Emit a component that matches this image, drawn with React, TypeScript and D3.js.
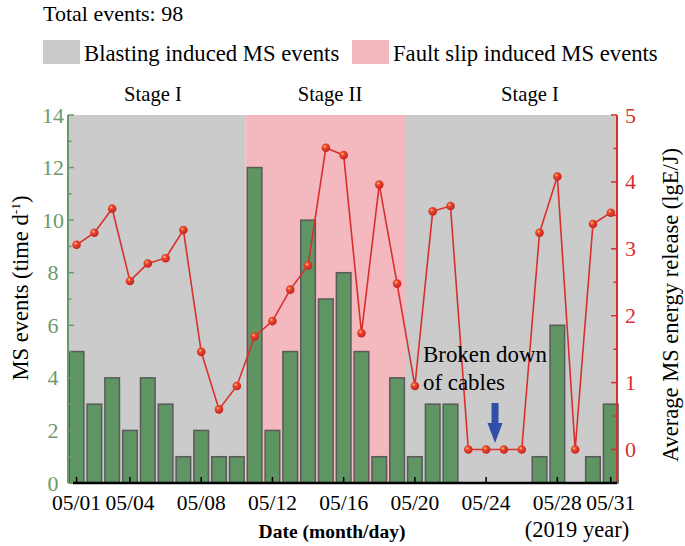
import React from "react";
import * as d3 from "d3";

const days = d3.range(1, 32);
const msEvents = [5, 3, 4, 2, 4, 3, 1, 2, 1, 1, 12, 2, 5, 10, 7, 8, 5, 1, 4, 1, 3, 3, 0, 0, 0, 0, 1, 6, 0, 1, 3];
const energy = [3.06, 3.24, 3.6, 2.52, 2.78, 2.86, 3.28, 1.46, 0.6, 0.95, 1.69, 1.92, 2.39, 2.75, 4.51, 4.4, 1.74, 3.96, 2.48, 0.95, 3.56, 3.64, 0, 0, 0, 0, 3.24, 4.08, 0, 3.37, 3.54];
const xTickDays = [1, 4, 8, 12, 16, 20, 24, 28, 31];
const leftTicks = [0, 2, 4, 6, 8, 10, 12, 14];
const leftMinor = [1, 3, 5, 7, 9, 11, 13];
const rightTicks = [0, 1, 2, 3, 4, 5];
const rightMinor = [-0.5, 0.5, 1.5, 2.5, 3.5, 4.5];
const stages = [
  { label: "Stage I", from: 0.52, to: 10.5, fill: "#cbcbcb", cx: 153 },
  { label: "Stage II", from: 10.5, to: 19.5, fill: "#f4b8bf", cx: 330 },
  { label: "Stage I", from: 19.5, to: 31.35, fill: "#cbcbcb", cx: 530 },
];

const W = 685;
const H = 546;
const L = 68;
const R = 617;
const T = 115;
const B = 483;

const GREEN = "#6a9a6a";
const RED = "#d9302c";
const FONT = "Liberation Serif";

export default function App() {
  const x = d3.scaleLinear().domain([0.52, 31.35]).range([L, R]);
  const yL = d3.scaleLinear().domain([0, 14]).range([B, T]);
  const yR = d3.scaleLinear().domain([-0.5, 5]).range([B, T]);
  const bw = (x(2) - x(1)) * 0.82;

  const line = d3
    .line<number>()
    .x((_, i) => x(days[i]))
    .y((d) => yR(d));

  const ax = x(24.5);

  return (
    <svg width={W} height={H} style={{ position: "absolute", left: 0, top: 0, fontFamily: FONT }}>
      <defs>
        <radialGradient id="ball" cx="0.38" cy="0.35" r="0.65">
          <stop offset="0" stopColor="#ffd36a" />
          <stop offset="0.3" stopColor="#ea4a33" />
          <stop offset="1" stopColor="#c8221e" />
        </radialGradient>
      </defs>
      <rect width={W} height={H} fill="#fff" />

      <text x={43} y={21} fontSize={22}>Total events: 98</text>

      <rect x={43} y={40} width={37} height={24} fill="#cbcbcb" />
      <text x={84} y={61} fontSize={22.7}>Blasting induced MS events</text>
      <rect x={352} y={40} width={37} height={24} fill="#f4b8bf" />
      <text x={393} y={61} fontSize={22.7}>Fault slip induced MS events</text>

      {stages.map((s, i) => (
        <g key={i}>
          <rect x={x(s.from)} y={T} width={x(s.to) - x(s.from)} height={B - T} fill={s.fill} />
          <text x={s.cx} y={101} fontSize={20.6} textAnchor="middle">
            {s.label}
          </text>
        </g>
      ))}

      {msEvents.map((v, i) =>
        v > 0 ? (
          <rect
            key={i}
            x={x(days[i]) - bw / 2}
            y={yL(v)}
            width={bw}
            height={B - yL(v)}
            fill="#5f9463"
            stroke="#5a5a5a"
            strokeWidth={1.5}
          />
        ) : null
      )}

      <path d={line(energy) ?? ""} fill="none" stroke={RED} strokeWidth={1.6} />
      {energy.map((v, i) => (
        <circle key={i} cx={x(days[i])} cy={yR(v)} r={4.3} fill="url(#ball)" />
      ))}

      {/* left axis */}
      <line x1={L} x2={L} y1={T} y2={B} stroke={GREEN} strokeWidth={2} />
      {leftTicks.map((t) => (
        <g key={t}>
          <line x1={L} x2={L + 6} y1={yL(t)} y2={yL(t)} stroke={GREEN} strokeWidth={1.5} />
          <text x={53} y={yL(t) + 7.5} fontSize={22} fill={GREEN} textAnchor="middle">
            {t}
          </text>
        </g>
      ))}
      {leftMinor.map((t) => (
        <line key={t} x1={L} x2={L + 3.5} y1={yL(t)} y2={yL(t)} stroke={GREEN} strokeWidth={1.5} />
      ))}

      {/* right axis */}
      <line x1={R} x2={R} y1={T} y2={B} stroke={RED} strokeWidth={2} />
      {rightTicks.map((t) => (
        <g key={t}>
          <line x1={R - 6} x2={R} y1={yR(t)} y2={yR(t)} stroke={RED} strokeWidth={1.5} />
          <text x={R + 8} y={yR(t) + 7.5} fontSize={22} fill={RED}>
            {t}
          </text>
        </g>
      ))}
      {rightMinor.map((t) => (
        <line key={t} x1={R - 3.5} x2={R} y1={yR(t)} y2={yR(t)} stroke={RED} strokeWidth={1.5} />
      ))}

      {/* bottom axis */}
      <line x1={73} x2={R} y1={B} y2={B} stroke="#000" strokeWidth={2.5} />
      {xTickDays.map((d) => (
        <g key={d}>
          <line x1={x(d)} x2={x(d)} y1={B} y2={B - 6} stroke="#000" strokeWidth={1.5} />
          <text x={x(d)} y={510} fontSize={21.5} textAnchor="middle">
            {"05/" + String(d).padStart(2, "0")}
          </text>
        </g>
      ))}

      <text x={332} y={538} fontSize={19.5} fontWeight="bold" textAnchor="middle">
        Date (month/day)
      </text>
      <text x={577} y={537} fontSize={22.5} textAnchor="middle">
        (2019 year)
      </text>

      <text transform="translate(28,288) rotate(-90)" fontSize={22.6} textAnchor="middle">
        MS events (time d<tspan dy={-8} fontSize={13.5}>-1</tspan>
        <tspan dy={8}>)</tspan>
      </text>
      <text transform="translate(678,305) rotate(-90)" fontSize={22.5} textAnchor="middle">
        Average MS energy release (lgE/J)
      </text>

      <text x={423} y={362} fontSize={22.9}>Broken down</text>
      <text x={423} y={390} fontSize={22.9}>of cables</text>

      <path
        d={`M${ax - 3.5},403 L${ax + 3.5},403 L${ax + 3.5},423 L${ax + 7.5},423 L${ax},443 L${ax - 7.5},423 L${ax - 3.5},423 Z`}
        fill="#2f4fa8"
      />
    </svg>
  );
}
